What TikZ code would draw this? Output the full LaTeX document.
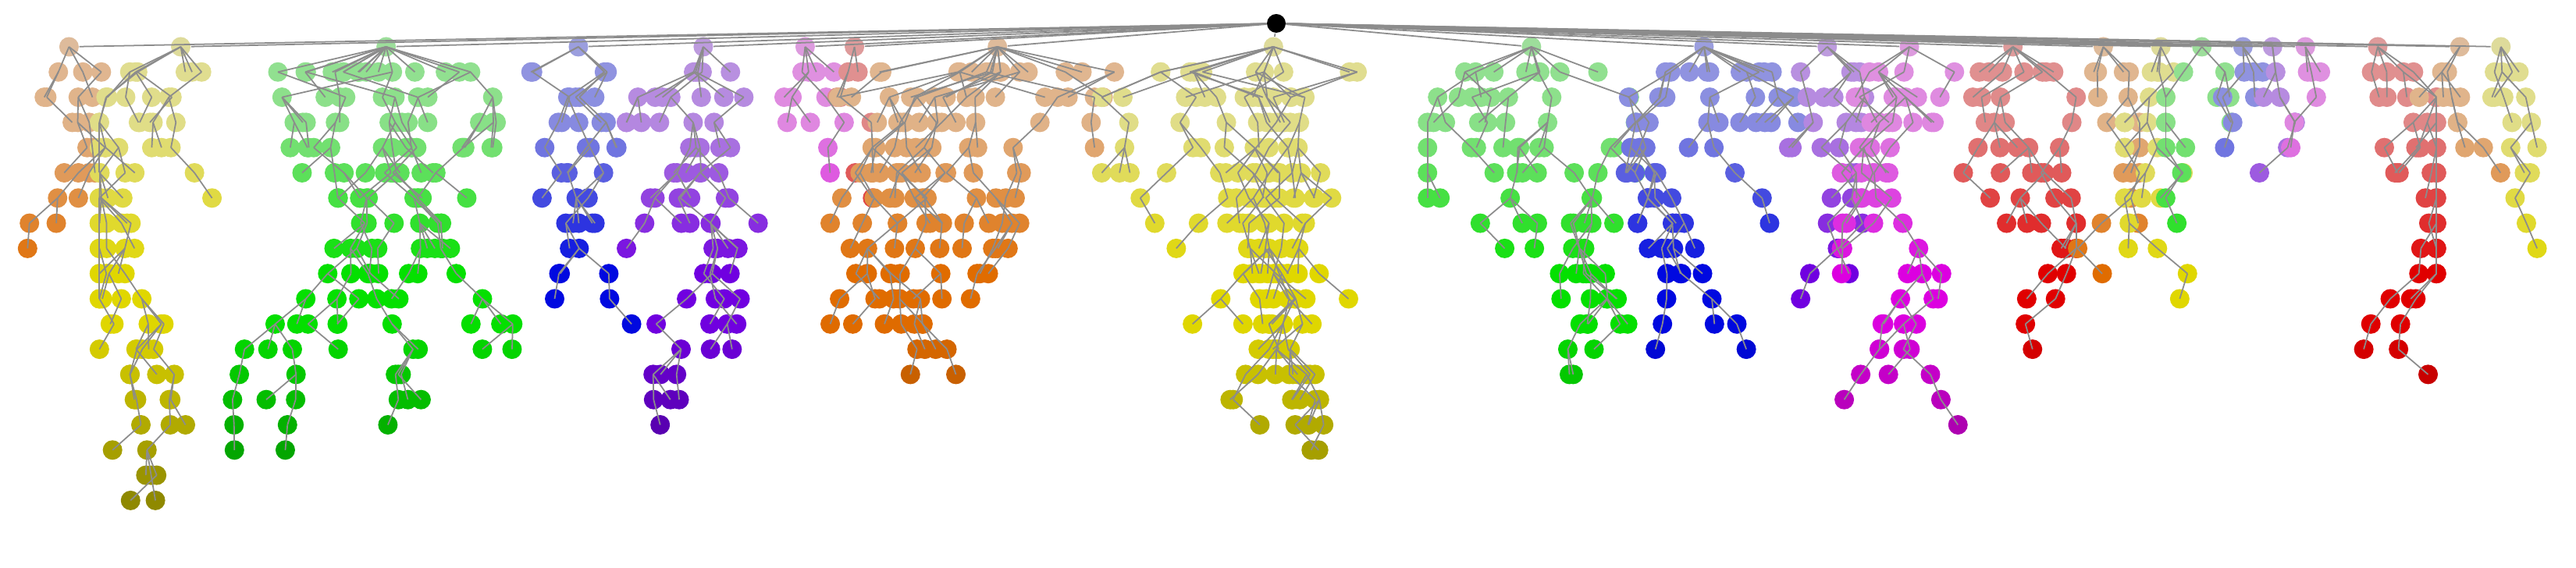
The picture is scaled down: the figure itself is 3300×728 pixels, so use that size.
\documentclass[tikz,border=0pt]{standalone}
\newif\ifedgepass
\newcommand{\runtree}{%
\foreach \b/\cxd/\spd/\dep/\hue in {
 1/42/55/9/0.08, 2/110/90/19/0.16, 3/235/170/17/0.33, 4/352/75/12/0.66,
 5/428/85/16/0.75, 6/490/45/6/0.83, 7/520/20/7/0.0, 8/607/185/14/0.08,
 9/775/190/17/0.16, 10/932/115/14/0.33, 11/1037/105/13/0.66, 12/1112/55/11/0.75,
 13/1162/75/16/0.83, 14/1225/70/13/0.0, 15/1280/40/10/0.08, 16/1315/40/11/0.16,
 17/1340/40/8/0.33, 18/1365/40/5/0.66, 19/1383/25/6/0.75, 20/1403/30/5/0.83,
 21/1447/65/14/0.0, 22/1497/45/6/0.08, 23/1522/40/9/0.16}{
  \pgfmathsetmacro\cx{\cxd*2.105}
  \pgfmathsetmacro\sp{\spd*2.105}
  \definecolor{tmpc}{hsb}{\hue,0.3,0.87}
  \colorlet{cc}[rgb]{tmpc}
  \expandafter\xdef\csname px\b-1-1\endcsname{\cx}
  \ifedgepass
    \draw[edge] (root) -- (b\b-1-1);
  \else
    \node[dot,fill=cc] (b\b-1-1) at (\cx,60) {};
  \fi
  \xdef\prevn{1}
  \foreach \l in {2,...,\dep}{
    \pgfmathsetmacro\fr{\l/\dep}
    \pgfmathtruncatemacro\nmax{max(1,round(\sp/21*(1-0.8*\fr*\fr)))}
    \pgfmathtruncatemacro\nmin{max(1,round(\nmax*0.6))}
    \ifnum\nmin<\nmax
      \pgfmathtruncatemacro\n{random(\nmin,\nmax)}
    \else
      \pgfmathtruncatemacro\n{\nmax}
    \fi
    \pgfmathsetmacro\sat{\l<5 ? 0.32+0.02*\l : min(1,0.4+0.1*(\l-4))}
    \pgfmathsetmacro\bri{\l>11 ? 0.92-0.045*(\l-11) : 0.88}
    \definecolor{tmpc}{hsb}{\hue,\sat,\bri}
    \colorlet{cc}[rgb]{tmpc}
    \pgfmathsetmacro\half{\sp*0.55}
    \pgfmathsetmacro\yy{60+32.3*(\l-1)}
    \pgfmathtruncatemacro\lp{\l-1}
    \foreach \k in {1,...,\n}{
      \ifnum\prevn>1
        \pgfmathtruncatemacro\p{random(1,\prevn)}
      \else
        \def\p{1}
      \fi
      \edef\parx{\csname px\b-\lp-\p\endcsname}
      \pgfmathsetmacro\x{max(\cx-\half,min(\cx+\half,\parx+(rnd-0.5)*(\l<4 ? \sp*0.8 : 80)))}
      \expandafter\xdef\csname px\b-\l-\k\endcsname{\x}
      \ifedgepass
        \draw[edge] (b\b-\lp-\p.center) -- (b\b-\l-\k.center);
      \else
        \node[dot,fill=cc] (b\b-\l-\k) at (\x,\yy) {};
      \fi
    }
    \xdef\prevn{\n}
  }
}}
\begin{document}
\begin{tikzpicture}[x=0.01cm,y=-0.01cm,
  dot/.style={circle,inner sep=0pt,minimum size=0.25cm,draw=none},
  edge/.style={draw=black!45,line width=0.5pt}]
\useasboundingbox (0,0) rectangle (3300,728);
\node[dot,fill=black,minimum size=0.24cm] (root) at (1635,30) {};
\edgepassfalse
\pgfmathsetseed{11}
\runtree
\edgepasstrue
\pgfmathsetseed{11}
\runtree
\end{tikzpicture}
\end{document}
